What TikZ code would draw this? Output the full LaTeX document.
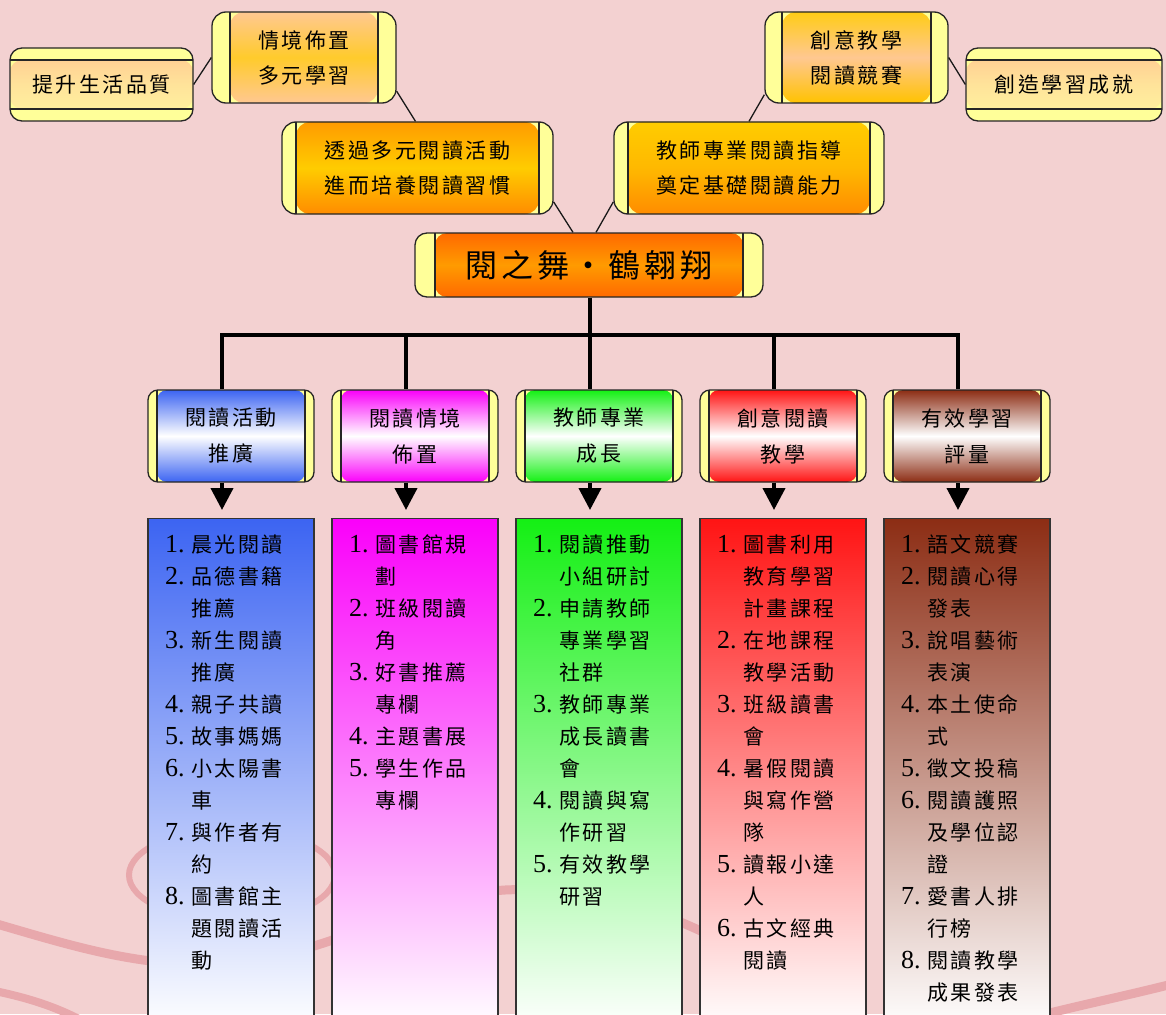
\documentclass[tikz,border=0pt]{standalone}
\usepackage{fontspec}
\usetikzlibrary{arrows.meta,calc}
\newfontfamily\cjk[LetterSpace=12]{Noto Sans CJK TC}
\newfontfamily\numf{Liberation Serif}
\definecolor{bgpink}{RGB}{243,209,209}
\definecolor{bgcurve}{RGB}{232,168,172}
\definecolor{band}{RGB}{255,255,153}
\definecolor{peach}{RGB}{255,200,145}
\definecolor{gold}{RGB}{255,204,0}
\definecolor{orangeA}{RGB}{255,155,0}
\definecolor{orangeB}{RGB}{255,140,0}
\definecolor{mainTop}{RGB}{255,105,0}
\definecolor{mainMid}{RGB}{255,155,0}
\definecolor{paleY}{RGB}{255,245,160}
\definecolor{cBlue}{RGB}{60,100,242}
\definecolor{cMag}{RGB}{250,0,250}
\definecolor{cGreen}{RGB}{20,240,20}
\definecolor{cRed}{RGB}{255,20,20}
\definecolor{cBrown}{RGB}{140,45,20}
\newcommand\itemno[1]{\makebox[26pt][l]{\numf\fontsize{26}{32}\selectfont #1}}
\newcommand\indt{\hspace*{26pt}}
\tikzset{
  edgeline/.style={draw=black!85, line width=1.3pt},
  boxbase/.style={draw=black!85, line width=1.3pt, fill=band, inner sep=0pt,
    align=center, font=\cjk\fontsize{21}{35}\selectfont},
  vproc/.style n args={4}{boxbase, path picture={
    \shade[top color=#2, bottom color=#4, middle color=#3]
      ([xshift=#1]path picture bounding box.north west) rectangle
      ([xshift=-#1]path picture bounding box.south east);
    \draw[edgeline] ([xshift=#1]path picture bounding box.north west) --
      ([xshift=#1]path picture bounding box.south west);
    \draw[edgeline] ([xshift=-#1]path picture bounding box.north east) --
      ([xshift=-#1]path picture bounding box.south east);}},
  hproc/.style n args={4}{boxbase, path picture={
    \shade[top color=#2, bottom color=#4, middle color=#3]
      ([yshift=-#1]path picture bounding box.north west) rectangle
      ([yshift=#1]path picture bounding box.south east);
    \draw[edgeline] ([yshift=-#1]path picture bounding box.north west) --
      ([yshift=-#1]path picture bounding box.north east);
    \draw[edgeline] ([yshift=#1]path picture bounding box.south west) --
      ([yshift=#1]path picture bounding box.south east);}},
  catbox/.style={vproc={9pt}{#1}{white}{#1}, rounded corners=10pt,
    minimum width=166pt, minimum height=92pt, font=\cjk\fontsize{21}{36}\selectfont},
  listbox/.style={draw=black!80, line width=1.2pt, top color=#1, bottom color=white,
    minimum width=166pt, minimum height=510pt, anchor=north, inner sep=0pt},
  listtext/.style={anchor=base west, inner sep=0pt, font=\cjk\fontsize{21}{32}\selectfont},
  conn/.style={draw=black!90, line width=1.3pt},
  tree/.style={draw=black, line width=4pt},
  down/.style={draw=black, line width=4pt, -{Triangle[width=22pt,length=22pt]}, shorten >=8pt},
  bgc/.style={draw=bgcurve, line cap=round}
}
\begin{document}
\begin{tikzpicture}[x=1pt,y=-1pt]
\useasboundingbox (0,0) rectangle (1166,1014);
\clip (0,0) rectangle (1166,1014);
\fill[bgpink] (0,0) rectangle (1166,1014);
% background decoration
\draw[bgc, line width=6pt] (232,875) ellipse [x radius=103pt, y radius=46pt];
\draw[bgc, line width=9pt] (-10,922) .. controls (80,948) and (160,975) .. (260,960)
   .. controls (360,940) and (420,895) .. (505,890) .. controls (590,886) and (650,905) .. (730,945);
\draw[bgc, line width=8pt] (-10,990) .. controls (30,998) and (60,1008) .. (90,1025);
\draw[bgc, line width=9pt] (1030,1018) .. controls (1080,1005) and (1130,995) .. (1180,982);

% top boxes
\node[hproc={12pt}{peach}{paleY!60!peach}{paleY}, rounded corners=12pt,
      minimum width=183pt, minimum height=73pt] (tisheng) at (101.5,84.5) {提升生活品質};
\node[vproc={18pt}{peach}{gold!70!peach}{peach}, rounded corners=14pt,
      minimum width=184pt, minimum height=91pt] (qingjing) at (304,57.5) {情境佈置\\多元學習};
\node[vproc={14pt}{orangeA}{gold}{orangeB}, rounded corners=14pt,
      minimum width=271pt, minimum height=92pt] (touguo) at (417.5,168) {透過多元閱讀活動\\進而培養閱讀習慣};
\node[vproc={17pt}{gold!85!peach}{peach}{gold!80!orangeA}, rounded corners=14pt,
      minimum width=183pt, minimum height=91pt] (chuangyi) at (856.5,57.5) {創意教學\\閱讀競賽};
\node[hproc={12pt}{peach}{paleY!60!peach}{paleY}, rounded corners=12pt,
      minimum width=196pt, minimum height=73pt] (chuangzao) at (1064,84.5) {創造學習成就};
\node[vproc={14pt}{gold}{gold!60!orangeA}{orangeB}, rounded corners=14pt,
      minimum width=270pt, minimum height=92pt] (jiaoshi) at (749,168) {教師專業閱讀指導\\奠定基礎閱讀能力};
\node[vproc={20pt}{mainTop}{mainMid}{mainTop}, rounded corners=12pt,
      minimum width=348pt, minimum height=64pt, font=\cjk\fontsize{32}{36}\selectfont] (main) at (589,265) {閱之舞・鶴翱翔};

% connectors among top boxes
\draw[conn] (tisheng.east) -- (qingjing.west);
\draw[conn] (qingjing.-20) -- ([xshift=-2pt]touguo.north);
\draw[conn] (touguo.-14.5) -- ([xshift=-16pt]main.north);
\draw[conn] ([xshift=7pt]main.north) -- (jiaoshi.194.6);
\draw[conn] (jiaoshi.north) -- (chuangyi.202.3);
\draw[conn] (chuangyi.east) -- (chuangzao.west);

% categories
\node[catbox=cBlue]  (cat1) at (231,436) {閱讀活動\\推廣};
\node[catbox=cMag]   (cat2) at (415,436) {閱讀情境\\佈置};
\node[catbox=cGreen] (cat3) at (599,436) {教師專業\\成長};
\node[catbox=cRed]   (cat4) at (783,436) {創意閱讀\\教學};
\node[catbox=cBrown] (cat5) at (967,436) {有效學習\\評量};

% tree
\coordinate (hub) at (590,335);
\draw[tree] ([xshift=1pt]main.south) -- (hub);
\foreach \k in {1,...,5}{
  \draw[tree] (hub) -| ([xshift=-9pt]cat\k.north);
}

% list boxes
\node[listbox=cBlue]  (list1) at (231,518) {};
\node[listbox=cMag]   (list2) at (415,518) {};
\node[listbox=cGreen] (list3) at (599,518) {};
\node[listbox=cRed]   (list4) at (783,518) {};
\node[listbox=cBrown] (list5) at (967,518) {};

\foreach \k in {1,...,5}{
  \draw[down] ([xshift=-9pt]cat\k.south) -- ([xshift=-9pt]list\k.north);
}

% list texts
\foreach \t [count=\i] in {\itemno{1.}晨光閱讀, \itemno{2.}品德書籍, \indt 推薦, \itemno{3.}新生閱讀, \indt 推廣, \itemno{4.}親子共讀, \itemno{5.}故事媽媽, \itemno{6.}小太陽書, \indt 車, \itemno{7.}與作者有, \indt 約, \itemno{8.}圖書館主, \indt 題閱讀活, \indt 動}
  \node[listtext] (ta-\i) at (165,{552+32*(\i-1)}) {\t};
\foreach \t [count=\i] in {\itemno{1.}圖書館規, \indt 劃, \itemno{2.}班級閱讀, \indt 角, \itemno{3.}好書推薦, \indt 專欄, \itemno{4.}主題書展, \itemno{5.}學生作品, \indt 專欄}
  \node[listtext] (tb-\i) at (349,{552+32*(\i-1)}) {\t};
\foreach \t [count=\i] in {\itemno{1.}閱讀推動, \indt 小組研討, \itemno{2.}申請教師, \indt 專業學習, \indt 社群, \itemno{3.}教師專業, \indt 成長讀書, \indt 會, \itemno{4.}閱讀與寫, \indt 作研習, \itemno{5.}有效教學, \indt 研習}
  \node[listtext] (tc-\i) at (533,{552+32*(\i-1)}) {\t};
\foreach \t [count=\i] in {\itemno{1.}圖書利用, \indt 教育學習, \indt 計畫課程, \itemno{2.}在地課程, \indt 教學活動, \itemno{3.}班級讀書, \indt 會, \itemno{4.}暑假閱讀, \indt 與寫作營, \indt 隊, \itemno{5.}讀報小達, \indt 人, \itemno{6.}古文經典, \indt 閱讀}
  \node[listtext] (td-\i) at (717,{552+32*(\i-1)}) {\t};
\foreach \t [count=\i] in {\itemno{1.}語文競賽, \itemno{2.}閱讀心得, \indt 發表, \itemno{3.}說唱藝術, \indt 表演, \itemno{4.}本土使命, \indt 式, \itemno{5.}徵文投稿, \itemno{6.}閱讀護照, \indt 及學位認, \indt 證, \itemno{7.}愛書人排, \indt 行榜, \itemno{8.}閱讀教學, \indt 成果發表}
  \node[listtext] (te-\i) at (901,{552+32*(\i-1)}) {\t};
\end{tikzpicture}
\end{document}
